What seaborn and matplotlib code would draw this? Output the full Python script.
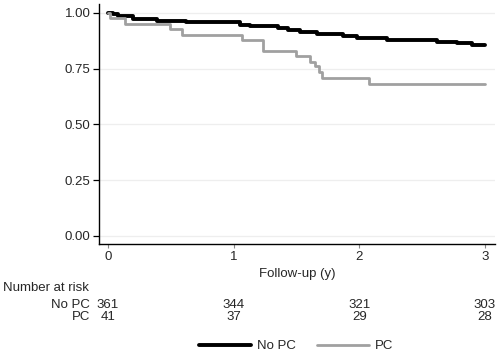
import numpy as np
import pandas as pd
import matplotlib
matplotlib.use("Agg")
import matplotlib.pyplot as plt
import matplotlib.transforms as mtransforms
from matplotlib.lines import Line2D
import seaborn as sns

# Kaplan-Meier step data
nopc_time = [0.0, 0.04, 0.08, 0.15, 0.20, 0.39, 0.62, 1.05, 1.13, 1.35, 1.43, 1.53, 1.66, 1.87, 1.98, 2.22, 2.62, 2.78, 2.90, 3.0]
nopc_surv = [1.0, 0.994, 0.988, 0.985, 0.973, 0.965, 0.957, 0.946, 0.942, 0.930, 0.924, 0.913, 0.904, 0.897, 0.889, 0.876, 0.871, 0.864, 0.856, 0.856]
pc_time = [0.0, 0.016, 0.135, 0.49, 0.59, 1.07, 1.23, 1.50, 1.61, 1.65, 1.68, 1.70, 2.08, 3.0]
pc_surv = [1.0, 0.976, 0.951, 0.927, 0.902, 0.880, 0.830, 0.805, 0.780, 0.760, 0.735, 0.709, 0.682, 0.682]

groups = ["No PC", "PC"]
risk_times = [0, 1, 2, 3]
risk_nopc = [361, 344, 321, 303]
risk_pc = [41, 37, 29, 28]
y_ticks = [0.0, 0.25, 0.5, 0.75, 1.0]
x_ticks = [0, 1, 2, 3]

df = pd.concat([
    pd.DataFrame({"time": nopc_time, "surv": nopc_surv, "group": groups[0]}),
    pd.DataFrame({"time": pc_time, "surv": pc_surv, "group": groups[1]}),
])

sns.set_theme(style="white")
plt.rcParams["font.family"] = ["Liberation Sans", "DejaVu Sans"]
FS = 9.5
plt.rcParams["font.size"] = FS

fig = plt.figure(figsize=(5.0, 3.56), dpi=100)
ax = fig.add_axes([0.198, 0.315, 0.792, 0.674])

palette = {"No PC": "#000000", "PC": "#a0a0a0"}
sns.lineplot(data=df, x="time", y="surv", hue="group", palette=palette,
             drawstyle="steps-post", estimator=None, ax=ax, legend=False,
             size="group", sizes={"No PC": 2.8, "PC": 2.0})

ax.set_xlim(-0.072, 3.08)
ax.set_ylim(-0.036, 1.04)
ax.set_yticks(y_ticks)
ax.set_yticklabels([f"{v:.2f}" for v in y_ticks])
ax.set_xticks(x_ticks)
ax.set_xticklabels([str(v) for v in x_ticks])
ax.yaxis.grid(True, color="#eeeeee", linewidth=0.9)
ax.xaxis.grid(False)
ax.set_axisbelow(True)
for s in ["top", "right"]:
    ax.spines[s].set_visible(False)
for s in ["left", "bottom"]:
    ax.spines[s].set_color("#000000")
    ax.spines[s].set_linewidth(1.0)
ax.tick_params(axis="y", direction="out", length=4, width=0.9, color="#000000",
               labelsize=FS, pad=2, left=True)
ax.tick_params(axis="x", direction="out", length=3, width=0.8, color="#888888",
               labelsize=FS, pad=2, bottom=True)
ax.set_xlabel("Follow-up (y)", fontsize=FS, labelpad=4)
ax.set_ylabel("")

# Number at risk table
trans = mtransforms.blended_transform_factory(ax.transData, fig.transFigure)
fig.text(0.006, 1 - 288 / 356, "Number at risk", fontsize=FS, va="center", ha="left")
fig.text(0.180, 1 - 305 / 356, "No PC", fontsize=FS, va="center", ha="right")
fig.text(0.180, 1 - 317 / 356, "PC", fontsize=FS, va="center", ha="right")
for t, a, b in zip(risk_times, risk_nopc, risk_pc):
    ax.text(t, 1 - 305 / 356, str(a), transform=trans, fontsize=FS, ha="center", va="center", clip_on=False)
    ax.text(t, 1 - 317 / 356, str(b), transform=trans, fontsize=FS, ha="center", va="center", clip_on=False)

# Legend
handles = [Line2D([0], [0], color=palette["No PC"], lw=2.8),
           Line2D([0], [0], color=palette["PC"], lw=2.0)]
fig.legend(handles, groups, loc="center", bbox_to_anchor=(0.593, 1 - 346 / 356),
           ncol=2, frameon=False, fontsize=FS, handlelength=3.9,
           handletextpad=0.5, columnspacing=1.6)

fig.savefig("out.png", dpi=100)
